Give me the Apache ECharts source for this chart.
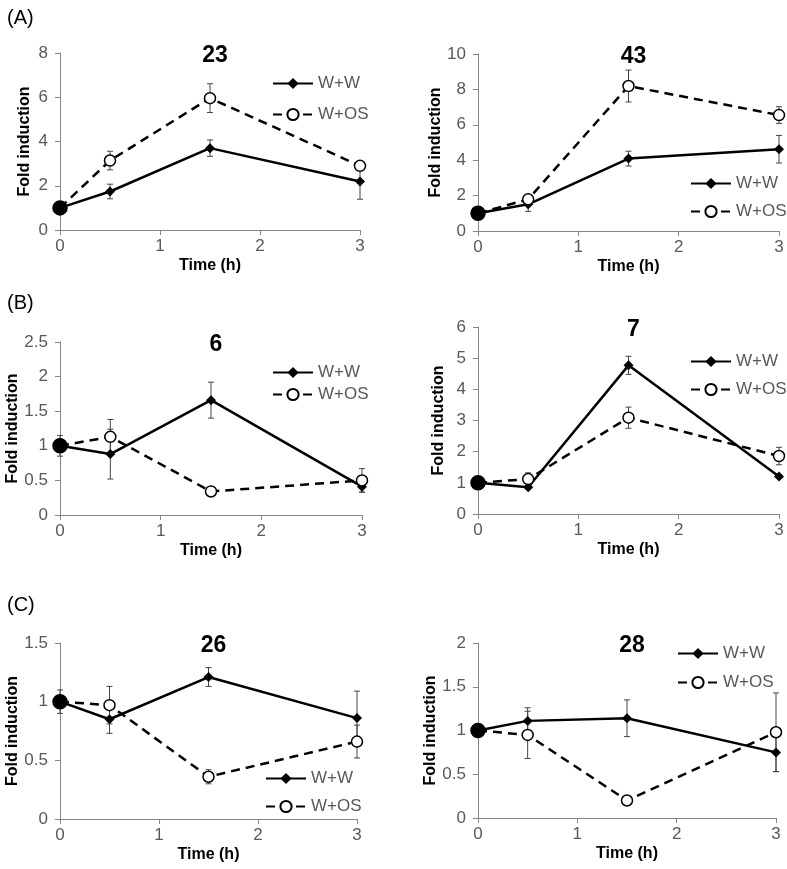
<!DOCTYPE html>
<html>
<head>
<meta charset="utf-8">
<script src="https://cdn.jsdelivr.net/npm/echarts@6/dist/echarts.min.js"></script>
<style>
  html, body { margin: 0; padding: 0; background: #fff; }
  #chart { width: 787px; height: 869px; }
</style>
</head>
<body>
<div id="chart"></div>
<script>
// sampling times (h)
var times = [0, 0.5, 1.5, 3];

// gene 23
var ww23 = [1, 1.74, 3.70, 2.19];
var ww23Err = [0, 0.33, 0.37, 0.80];
var os23 = [1, 3.14, 5.96, 2.90];
var os23Err = [0, 0.42, 0.65, 0.15];
// gene 43
var ww43 = [1, 1.51, 4.09, 4.62];
var ww43Err = [0.1, 0.40, 0.42, 0.78];
var os43 = [1, 1.79, 8.19, 6.55];
var os43Err = [0, 0.15, 0.90, 0.47];
// gene 6
var ww6 = [1, 0.88, 1.66, 0.41];
var ww6Err = [0, 0.36, 0.26, 0.08];
var os6 = [1, 1.13, 0.34, 0.50];
var os6Err = [0.15, 0.25, 0.03, 0.17];
// gene 7
var ww7 = [1, 0.86, 4.77, 1.20];
var ww7Err = [0, 0.05, 0.29, 0.05];
var os7 = [1, 1.12, 3.09, 1.86];
var os7Err = [0, 0.20, 0.34, 0.28];
// gene 26
var ww26 = [1, 0.85, 1.21, 0.86];
var ww26Err = [0, 0.12, 0.08, 0.23];
var os26 = [1, 0.97, 0.36, 0.66];
var os26Err = [0.1, 0.16, 0.06, 0.14];
// gene 28
var ww28 = [1, 1.11, 1.14, 0.75];
var ww28Err = [0, 0.15, 0.21, 0.22];
var os28 = [1, 0.95, 0.20, 0.98];
var os28Err = [0, 0.27, 0.02, 0.45];

var panelTitles = ['23', '43', '6', '7', '26', '28'];
var yMax = [8, 10, 2.5, 6, 1.5, 2];
var yStep = [2, 2, 0.5, 1, 0.5, 0.5];
var sectionLabels = ['(A)', '(B)', '(C)'];

var panelData = [
    [ww23, ww23Err, os23, os23Err],
    [ww43, ww43Err, os43, os43Err],
    [ww6, ww6Err, os6, os6Err],
    [ww7, ww7Err, os7, os7Err],
    [ww26, ww26Err, os26, os26Err],
    [ww28, ww28Err, os28, os28Err]
];

// layout of each panel: plot box, legend spot, y-name gap
var layout = [
    {left: 60, top: 53, width: 300, height: 177, legLeft: 267, legTop: 70, legGap: 14, nameGap: 27},
    {left: 478, top: 54, width: 301, height: 177, legLeft: 685, legTop: 170, legGap: 11, nameGap: 31},
    {left: 60, top: 342, width: 302, height: 173, legLeft: 267, legTop: 359, legGap: 5, nameGap: 27},
    {left: 478, top: 327, width: 301, height: 187, legLeft: 685, legTop: 348, legGap: 11, nameGap: 31},
    {left: 60, top: 643, width: 297, height: 176, legLeft: 260, legTop: 765, legGap: 11, nameGap: 27},
    {left: 478, top: 643, width: 298, height: 175, legLeft: 672, legTop: 640, legGap: 12, nameGap: 31}
];
var sectionTops = [3, 288, 590];

var FONT = '"Liberation Sans", Arial, sans-serif';
var GRAY = '#595959';
var AXIS = '#868686';

function pairs(vals){
    return vals.map(function(v, i){ return [times[i], v]; });
}

function errData(vals, errs){
    var out = [];
    vals.forEach(function(v, i){
        if (errs[i] > 0) out.push([times[i], v - errs[i], v + errs[i]]);
    });
    return out;
}

function renderErr(params, api){
    var x = api.value(0);
    var lo = api.coord([x, api.value(1)]);
    var hi = api.coord([x, api.value(2)]);
    var w = 3;
    var style = {stroke: '#444', lineWidth: 1};
    return {
        type: 'group',
        children: [
            {type: 'line', shape: {x1: lo[0], y1: lo[1], x2: hi[0], y2: hi[1]}, style: style},
            {type: 'line', shape: {x1: lo[0] - w, y1: lo[1], x2: lo[0] + w, y2: lo[1]}, style: style},
            {type: 'line', shape: {x1: hi[0] - w, y1: hi[1], x2: hi[0] + w, y2: hi[1]}, style: style}
        ]
    };
}

var grids = [], xAxes = [], yAxes = [], series = [], legends = [], titles = [];

sectionLabels.forEach(function(lab, i){
    titles.push({
        text: lab, left: 2, top: sectionTops[i],
        textStyle: {fontFamily: FONT, fontSize: 20, fontWeight: 'normal', color: '#000'}
    });
});

panelData.forEach(function(d, p){
    var L = layout[p];
    grids.push({left: L.left, top: L.top, width: L.width, height: L.height, containLabel: false});
    titles.push({
        text: panelTitles[p],
        left: L.left + L.width / 2, top: L.top - 14, textAlign: 'center',
        textStyle: {fontFamily: FONT, fontSize: 23, fontWeight: 'bold', color: '#000'}
    });
    xAxes.push({
        type: 'value', gridIndex: p, min: 0, max: 3, interval: 1,
        name: 'Time (h)', nameLocation: 'middle', nameGap: 28,
        nameTextStyle: {fontFamily: FONT, fontSize: 16, fontWeight: 'bold', color: '#000'},
        axisLine: {show: true, onZero: false, lineStyle: {color: AXIS, width: 1}},
        axisTick: {show: true, length: 5, lineStyle: {color: AXIS}},
        axisLabel: {fontFamily: FONT, fontSize: 17, color: GRAY, margin: 8},
        splitLine: {show: false}
    });
    yAxes.push({
        type: 'value', gridIndex: p, min: 0, max: yMax[p], interval: yStep[p],
        name: 'Fold induction', nameLocation: 'middle', nameGap: L.nameGap,
        nameTextStyle: {fontFamily: FONT, fontSize: 16, fontWeight: 'bold', color: '#000'},
        axisLine: {show: true, lineStyle: {color: AXIS, width: 1}},
        axisTick: {show: true, length: 5, lineStyle: {color: AXIS}},
        axisLabel: {fontFamily: FONT, fontSize: 17, color: GRAY, margin: 12},
        splitLine: {show: false}
    });
    legends.push({
        data: ['W+W', 'W+OS'], orient: 'vertical',
        left: L.legLeft, top: L.legTop, itemWidth: 40, itemHeight: 14, itemGap: L.legGap,
        textStyle: {fontFamily: FONT, fontSize: 17, color: GRAY},
        selectedMode: false
    });

    var osPts = pairs(d[2]);
    osPts[0] = {value: osPts[0], symbolSize: 14, itemStyle: {color: '#000', borderColor: '#000'}};

    series.push({
        type: 'custom', name: 'errOS' + p, xAxisIndex: p, yAxisIndex: p,
        renderItem: renderErr, data: errData(d[2], d[3]), z: 1, silent: true
    });
    series.push({
        type: 'custom', name: 'errWW' + p, xAxisIndex: p, yAxisIndex: p,
        renderItem: renderErr, data: errData(d[0], d[1]), z: 1, silent: true
    });
    series.push({
        type: 'line', name: 'W+OS', xAxisIndex: p, yAxisIndex: p,
        data: osPts, symbol: 'circle', symbolSize: 11, clip: false,
        lineStyle: {color: '#000', width: 2.5, type: [9, 6]},
        itemStyle: {color: '#fff', borderColor: '#000', borderWidth: 1.5},
        z: 3, animation: false
    });
    series.push({
        type: 'line', name: 'W+W', xAxisIndex: p, yAxisIndex: p,
        data: pairs(d[0]), symbol: 'diamond', symbolSize: 10, clip: false,
        lineStyle: {color: '#000', width: 2.5},
        itemStyle: {color: '#000', borderColor: '#000', borderWidth: 0},
        z: 2, animation: false
    });
});

var chart = echarts.init(document.getElementById('chart'));
chart.setOption({
    backgroundColor: '#fff',
    animation: false,
    title: titles,
    grid: grids,
    xAxis: xAxes,
    yAxis: yAxes,
    legend: legends,
    series: series
});
</script>
</body>
</html>
